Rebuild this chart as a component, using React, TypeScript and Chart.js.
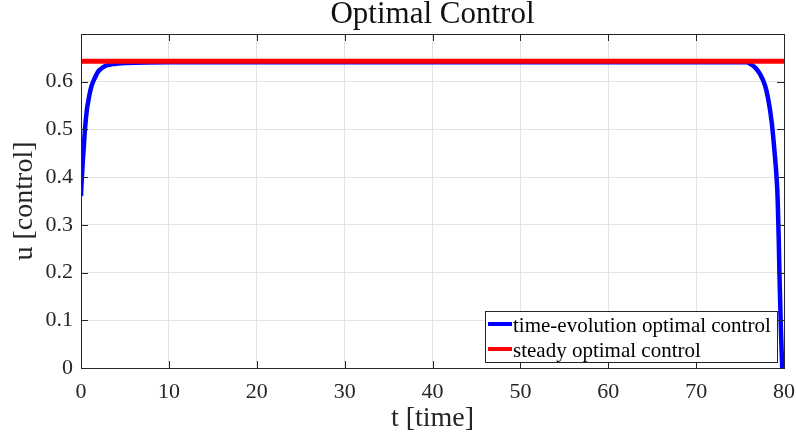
import React, { useEffect, useRef } from 'react';
import { Chart, registerables } from 'chart.js';

Chart.register(...registerables);

const chartTitle = 'Optimal Control';
const xAxisTitle = 't [time]';
const yAxisTitle = 'u [control]';
const seriesLabels = ['time-evolution optimal control', 'steady optimal control'];

const xTickMin = 0;
const xTickMax = 80;
const xTickStep = 10;
const yTickMin = 0;
const yTickMax = 0.7;
const yTickStep = 0.1;

const timeT = [
  0, 0.05, 0.11, 0.2, 0.3, 0.45, 0.68, 0.8, 1.02, 1.2, 1.4, 1.65, 1.9, 2.2, 2.65, 3.1, 3.6, 4.2, 5,
  10, 15, 20, 25, 30, 35, 40, 45, 50, 55, 60, 65, 70, 75,
  75.75, 76.2, 76.7, 77.27, 77.84, 78.2, 78.6, 78.9, 79.17, 79.28, 79.4, 79.5, 79.65, 79.8,
];
const timeU = [
  0.36, 0.382, 0.402, 0.432, 0.458, 0.5, 0.543, 0.556, 0.578, 0.591, 0.601, 0.611, 0.62, 0.626, 0.632, 0.635, 0.637, 0.638, 0.639,
  0.641, 0.641, 0.641, 0.641, 0.641, 0.641, 0.641, 0.641, 0.641, 0.641, 0.641, 0.641, 0.641, 0.641,
  0.641, 0.637, 0.63, 0.616, 0.592, 0.564, 0.515, 0.458, 0.395, 0.353, 0.27, 0.184, 0.08, 0,
];
const steadyT = [0, 80];
const steadyU = [0.643, 0.643];

const FONT = '"Liberation Serif", "Times New Roman", serif';
const DARK = '#262626';

const framePlugin = {
  id: 'frame',
  afterDraw(chart: any) {
    const { ctx, chartArea: a, scales } = chart;
    const xs = scales.x;
    const ys = scales.y;
    ctx.save();
    ctx.strokeStyle = DARK;
    ctx.lineWidth = 1;
    ctx.strokeRect(Math.round(a.left) + 0.5, Math.round(a.top) + 0.5, Math.round(a.right - a.left), Math.round(a.bottom - a.top));
    const len = 7;
    ctx.beginPath();
    xs.ticks.forEach((t: any) => {
      const px = Math.round(xs.getPixelForValue(t.value)) + 0.5;
      ctx.moveTo(px, a.top);
      ctx.lineTo(px, a.top + len);
      ctx.moveTo(px, a.bottom);
      ctx.lineTo(px, a.bottom - len);
    });
    ys.ticks.forEach((t: any) => {
      const py = Math.round(ys.getPixelForValue(t.value)) + 0.5;
      ctx.moveTo(a.left, py);
      ctx.lineTo(a.left + len, py);
      ctx.moveTo(a.right, py);
      ctx.lineTo(a.right - len, py);
    });
    ctx.stroke();

    ctx.fillStyle = '#111';
    ctx.font = `31px ${FONT}`;
    ctx.textAlign = 'center';
    ctx.textBaseline = 'alphabetic';
    ctx.fillText(chartTitle, (a.left + a.right) / 2, 23);

    const ds = chart.data.datasets;
    ctx.font = `21px ${FONT}`;
    let tw = 0;
    ds.forEach((d: any) => { tw = Math.max(tw, ctx.measureText(d.label).width); });
    const boxW = Math.round(3 + 24 + 2 + tw + 5);
    const boxH = 51;
    const right = Math.round(a.right) - 7;
    const bottom = Math.round(a.bottom) - 6;
    const left = right - boxW;
    const top = bottom - boxH;
    ctx.fillStyle = '#fff';
    ctx.fillRect(left, top, boxW, boxH);
    ctx.strokeStyle = DARK;
    ctx.lineWidth = 1;
    ctx.strokeRect(left + 0.5, top + 0.5, boxW, boxH);
    const legendOrder = [...ds].sort((p: any, q: any) => p.legendIndex - q.legendIndex);
    legendOrder.forEach((d: any, i: number) => {
      const cy = top + 13 + i * 25;
      ctx.strokeStyle = d.borderColor;
      ctx.lineWidth = 4;
      ctx.beginPath();
      ctx.moveTo(left + 3, cy);
      ctx.lineTo(left + 27, cy);
      ctx.stroke();
      ctx.fillStyle = '#000';
      ctx.textAlign = 'left';
      ctx.textBaseline = 'alphabetic';
      ctx.fillText(d.label, left + 28, cy + 7.5);
    });
    ctx.restore();
  },
};

export default function App() {
  const ref = useRef<HTMLCanvasElement>(null);
  useEffect(() => {
    const canvas = ref.current;
    if (!canvas) return;
    const chart = new Chart(canvas, {
      type: 'line',
      data: {
        datasets: [
          {
            label: seriesLabels[0],
            legendIndex: 0,
            data: timeT.map((t, i) => ({ x: t, y: timeU[i] })),
            borderColor: '#0000ff',
            borderWidth: 4.5,
            pointRadius: 0,
            tension: 0.3,
            cubicInterpolationMode: 'monotone',
            order: 1,
          } as any,
          {
            label: seriesLabels[1],
            legendIndex: 1,
            data: steadyT.map((t, i) => ({ x: t, y: steadyU[i] })),
            borderColor: '#ff0000',
            borderWidth: 5,
            pointRadius: 0,
            tension: 0,
            order: 0,
          } as any,
        ],
      },
      options: {
        animation: false,
        responsive: false,
        devicePixelRatio: 1,
        layout: { padding: { left: 0, right: 12, top: 34, bottom: 0 } },
        plugins: {
          legend: { display: false },
          title: { display: false },
          tooltip: { enabled: false },
        },
        scales: {
          x: {
            type: 'linear',
            min: xTickMin,
            max: xTickMax,
            border: { display: false },
            grid: { color: '#e3e3e3', drawTicks: false },
            ticks: {
              stepSize: xTickStep,
              autoSkip: false,
              maxRotation: 0,
              padding: 11,
              color: DARK,
              font: { family: FONT, size: 22 },
            },
            title: {
              display: true,
              text: xAxisTitle,
              color: DARK,
              font: { family: FONT, size: 28 },
              padding: { top: 0, bottom: 2 },
            },
            afterFit: (s: any) => {
              s.height = 69;
              s.paddingLeft = 0;
              s.paddingRight = 0;
            },
          },
          y: {
            type: 'linear',
            min: yTickMin,
            max: yTickMax,
            border: { display: false },
            grid: { color: '#e3e3e3', drawTicks: false },
            ticks: {
              stepSize: yTickStep,
              padding: 8,
              color: DARK,
              font: { family: FONT, size: 22 },
              callback: (v: any) => {
                const n = Number(v);
                if (n > 0.65) return '';
                return n === 0 ? '0' : n.toFixed(1);
              },
            },
            title: {
              display: true,
              text: yAxisTitle,
              color: DARK,
              font: { family: FONT, size: 28 },
              padding: { top: 8, bottom: 0 },
            },
            afterFit: (s: any) => {
              s.width = 81;
              s.paddingTop = 0;
              s.paddingBottom = 0;
            },
          },
        },
      },
      plugins: [framePlugin],
    });
    return () => chart.destroy();
  }, []);
  return (
    <div style={{ position: 'fixed', left: 0, top: 0, width: 796, height: 437, background: '#fff' }}>
      <canvas ref={ref} width={796} height={437} style={{ display: 'block', width: 796, height: 437 }} />
    </div>
  );
}
